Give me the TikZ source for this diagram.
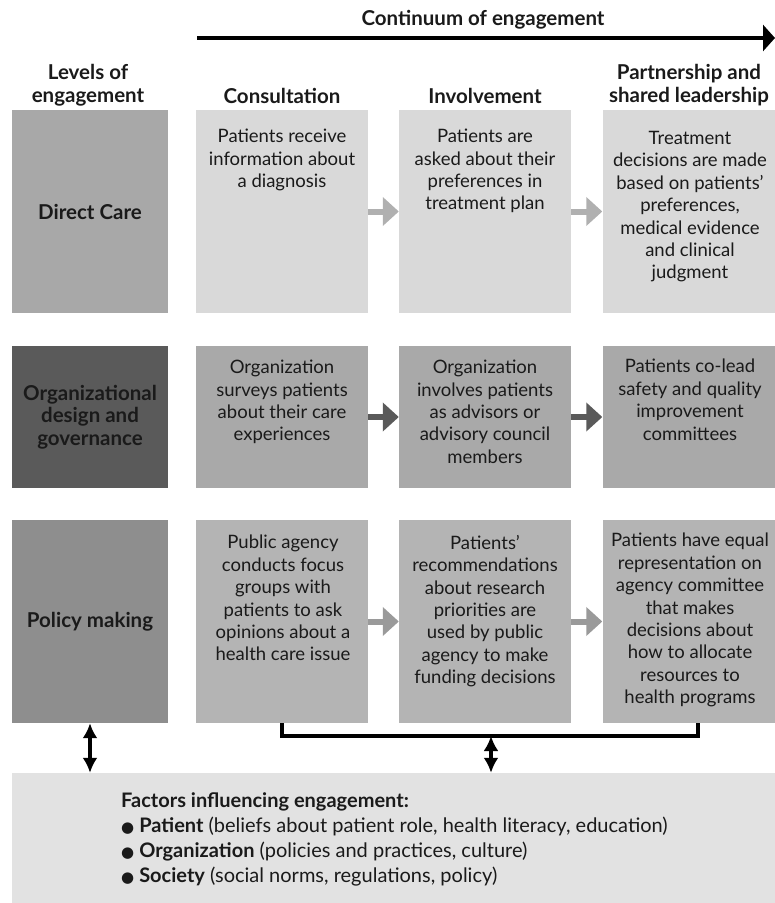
\documentclass[tikz,border=0pt]{standalone}
\usepackage{fontspec}
\setmainfont{Lato}
\newfontfamily\symfont{DejaVu Sans}
\usetikzlibrary{arrows.meta}
\definecolor{ink}{HTML}{1A1A1A}
\definecolor{levelOne}{HTML}{A8A8A8}
\definecolor{levelTwo}{HTML}{5A5A5A}
\definecolor{levelThree}{HTML}{8E8E8E}
\definecolor{rowOne}{HTML}{D9D9D9}
\definecolor{rowTwo}{HTML}{A9A9A9}
\definecolor{rowThree}{HTML}{B4B4B4}
\definecolor{arrowOne}{HTML}{B0B0B0}
\definecolor{arrowTwo}{HTML}{5A5A5A}
\definecolor{arrowThree}{HTML}{9A9A9A}
\definecolor{factorFill}{HTML}{E2E2E2}
\tikzstyle{levelBox}=[shape = rectangle, minimum width = 156pt, inner sep = 0pt, align = center, text = ink, font = \bfseries\fontsize{20.5}{22.5}\selectfont]
\tikzstyle{cellBox}=[shape = rectangle, minimum width = 172pt, inner sep = 0pt]
\tikzstyle{cellText}=[anchor = north, align = center, inner sep = 0pt, text = ink, font = \fontsize{18.5}{22.4}\selectfont]
\tikzstyle{headText}=[align = center, inner sep = 0pt, text = ink, font = \bfseries\fontsize{20.5}{23}\selectfont]

\begin{document}
\begin{tikzpicture}[x = 1pt, y = -1pt]
\tikzstyle{stepArrow}=[line width = 6pt, -{Triangle[length = 16pt, width = 28pt]}]
\tikzstyle{linkArrow}=[line width = 3.5pt, {Latex[length = 15pt, width = 15pt]}-{Latex[length = 15pt, width = 15pt]}]
\useasboundingbox (0,0) rectangle (775,903);
\node[headText] (title) at (483,20) {Continuum of engagement};
\coordinate (cs) at (197,38);
\coordinate (ce) at (775,38);
\draw[line width = 4.5pt, -{Triangle[length = 12pt, width = 26pt]}] (cs) -- (ce);
\node[headText] (hl) at (88,85) {Levels of\\engagement};
\node[headText] (h1) at (282,96) {Consultation};
\node[headText] (h2) at (485,96) {Involvement};
\node[headText] (h3) at (689,85) {Partnership and\\shared leadership};
\node[levelBox, fill = levelOne, minimum height = 203pt] (l1) at (90,211.5) {Direct Care};
\node[levelBox, fill = levelTwo, minimum height = 142pt] (l2) at (90,417) {Organizational\\design and\\governance};
\node[levelBox, fill = levelThree, minimum height = 203pt] (l3) at (90,621.5) {Policy making};
\node[cellBox, fill = rowOne, minimum height = 203pt] (c11) at (282,211.5) {};
\node[cellBox, fill = rowOne, minimum height = 203pt] (c12) at (485,211.5) {};
\node[cellBox, fill = rowOne, minimum height = 203pt] (c13) at (688.5,211.5) {};
\node[cellBox, fill = rowTwo, minimum height = 142pt] (c21) at (282,417) {};
\node[cellBox, fill = rowTwo, minimum height = 142pt] (c22) at (485,417) {};
\node[cellBox, fill = rowTwo, minimum height = 142pt] (c23) at (688.5,417) {};
\node[cellBox, fill = rowThree, minimum height = 203pt] (c31) at (282,621.5) {};
\node[cellBox, fill = rowThree, minimum height = 203pt] (c32) at (485,621.5) {};
\node[cellBox, fill = rowThree, minimum height = 203pt] (c33) at (688.5,621.5) {};
\node[cellText] (t11) at (282,129) {Patients receive\\information about\\a diagnosis};
\node[cellText] (t12) at (485,129) {Patients are\\asked about their\\preferences in\\treatment plan};
\node[cellText] (t13) at (690,131) {Treatment\\decisions are made\\based on patients'\\preferences,\\medical evidence\\and clinical\\judgment};
\node[cellText] (t21) at (282,360) {Organization\\surveys patients\\about their care\\experiences};
\node[cellText] (t22) at (485,360) {Organization\\involves patients\\as advisors or\\advisory council\\members};
\node[cellText] (t23) at (690,359) {Patients co-lead\\safety and quality\\improvement\\committees};
\node[cellText] (t31) at (283,535) {Public agency\\conducts focus\\groups with\\patients to ask\\opinions about a\\health care issue};
\node[cellText] (t32) at (485,535) {Patients'\\recommendations\\about research\\priorities are\\used by public\\agency to make\\funding decisions};
\node[cellText] (t33) at (690,533) {Patients have equal\\representation on\\agency committee\\that makes\\decisions about\\how to allocate\\resources to\\health programs};
\draw[stepArrow, arrowOne] (c11) -- (c12);
\draw[stepArrow, arrowOne] (c12) -- (c13);
\draw[stepArrow, arrowTwo] (c21) -- (c22);
\draw[stepArrow, arrowTwo] (c22) -- (c23);
\draw[stepArrow, arrowThree] (c31) -- (c32);
\draw[stepArrow, arrowThree] (c32) -- (c33);
\node[shape = rectangle, fill = factorFill, minimum width = 763pt, minimum height = 130pt, inner sep = 0pt] (fac) at (393.5,838) {};
\node[anchor = north west, align = left, inner sep = 0pt, text = ink, font = \fontsize{20}{25}\selectfont] (ft) at (121,792) {\textbf{Factors influencing engagement:}\\
{\symfont\fontsize{15}{25}\selectfont ●}\hspace{5pt}\textbf{Patient} (beliefs about patient role, health literacy, education)\\
{\symfont\fontsize{15}{25}\selectfont ●}\hspace{5pt}\textbf{Organization} (policies and practices, culture)\\
{\symfont\fontsize{15}{25}\selectfont ●}\hspace{5pt}\textbf{Society} (social norms, regulations, policy)};
\coordinate (bl) at (282,736);
\coordinate (br) at (698,736);
\coordinate (bm) at (491,736);
\draw[line width = 3.5pt] (c31.south) -- (bl) -- (br) -- (br |- c33.south);
\draw[linkArrow] (l3.south) -- (l3.south |- fac.north);
\draw[linkArrow] (bm) -- (bm |- fac.north);
\end{tikzpicture}
\end{document}
